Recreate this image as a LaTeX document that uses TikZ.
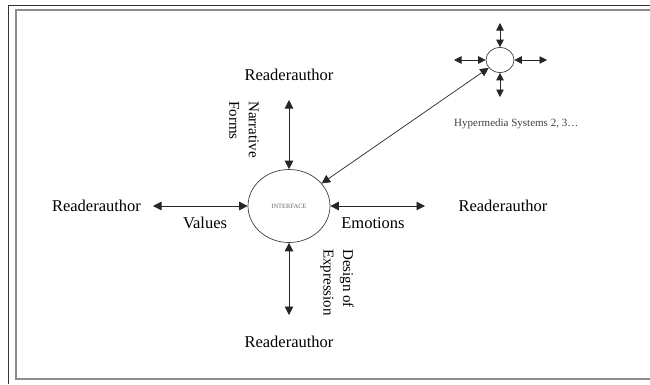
\documentclass[tikz,border=0pt]{standalone}
\usepackage{fontspec}
\setmainfont{Liberation Serif}
\usetikzlibrary{shapes.geometric,arrows.meta}

\begin{document}
\begin{tikzpicture}[x=1pt,y=-1pt,
      reader/.style={inner sep=0pt,font=\fontsize{16.5}{19}\selectfont},
      vtext/.style={inner sep=0pt,rotate=-90,align=left,anchor=north west,
                    font=\fontsize{15}{19.5}\selectfont},
      link/.style={<->,line width=0.8pt,draw=black!85,
                   >={Triangle[length=8.5pt,width=8.5pt]}},
      small/.style={<->,line width=0.8pt,draw=black!85,
                   >={Triangle[length=7.5pt,width=7.5pt]}}]
    \useasboundingbox (0,0) rectangle (650,384);
    \fill[white] (0,0) rectangle (650,384);
    % frame
    \draw[line width=1.3pt,black!80] (8.7,384) |- (650,5.7);
    \draw[line width=1.1pt,black!45] (650,10) -| (16,379) -- (650,379);
    % centre
    \node (iface) [ellipse,draw=black!75,line width=0.7pt,minimum width=82pt,
                   minimum height=73pt,font=\fontsize{6.5}{7}\selectfont,
                   text=black!60] at (289,206) {INTERFACE};
    \node (rtop) [reader] at (289,75) {Readerauthor};
    \node (rleft) [reader] at (96.5,206) {Readerauthor};
    \node (rright) [reader] at (503,206) {Readerauthor};
    \node (rbot) [reader] at (289,342) {Readerauthor};
    \coordinate (etop) at (289,100);
    \coordinate (eleft) at (153,206);
    \coordinate (eright) at (425,206);
    \coordinate (ebot) at (289,315);
    \draw[link] (etop) -- (iface.north);
    \draw[link] (eleft) -- (iface.west);
    \draw[link] (eright) -- (iface.east);
    \draw[link] (ebot) -- (iface.south);
    \node (values) [reader] at (205,223) {Values};
    \node (emot) [reader] at (373,223) {Emotions};
    \node (narr) [vtext] at (259,101) {Narrative\\Forms};
    \node (design) [vtext] at (354,249) {Design of\\Expression};
    % other systems
    \node (hyper) [ellipse,draw=black!75,line width=0.7pt,minimum width=28pt,
                   minimum height=25pt,inner sep=0pt] at (500,60) {};
    \coordinate (htop) at (500,23);
    \coordinate (hbot) at (500,97);
    \coordinate (hleft) at (454,60);
    \coordinate (hright) at (547,60);
    \draw[small] (htop) -- (hyper.north);
    \draw[small] (hbot) -- (hyper.south);
    \draw[small] (hleft) -- (hyper.west);
    \draw[small] (hright) -- (hyper.east);
    \draw[link,line width=0.7pt] (iface) -- (hyper);
    \node (hlabel) [anchor=west,inner sep=0pt,text=black!75,
                    font=\fontsize{11}{13}\selectfont] at (454,124)
          {Hypermedia Systems 2, 3…};
  \end{tikzpicture}
\end{document}
